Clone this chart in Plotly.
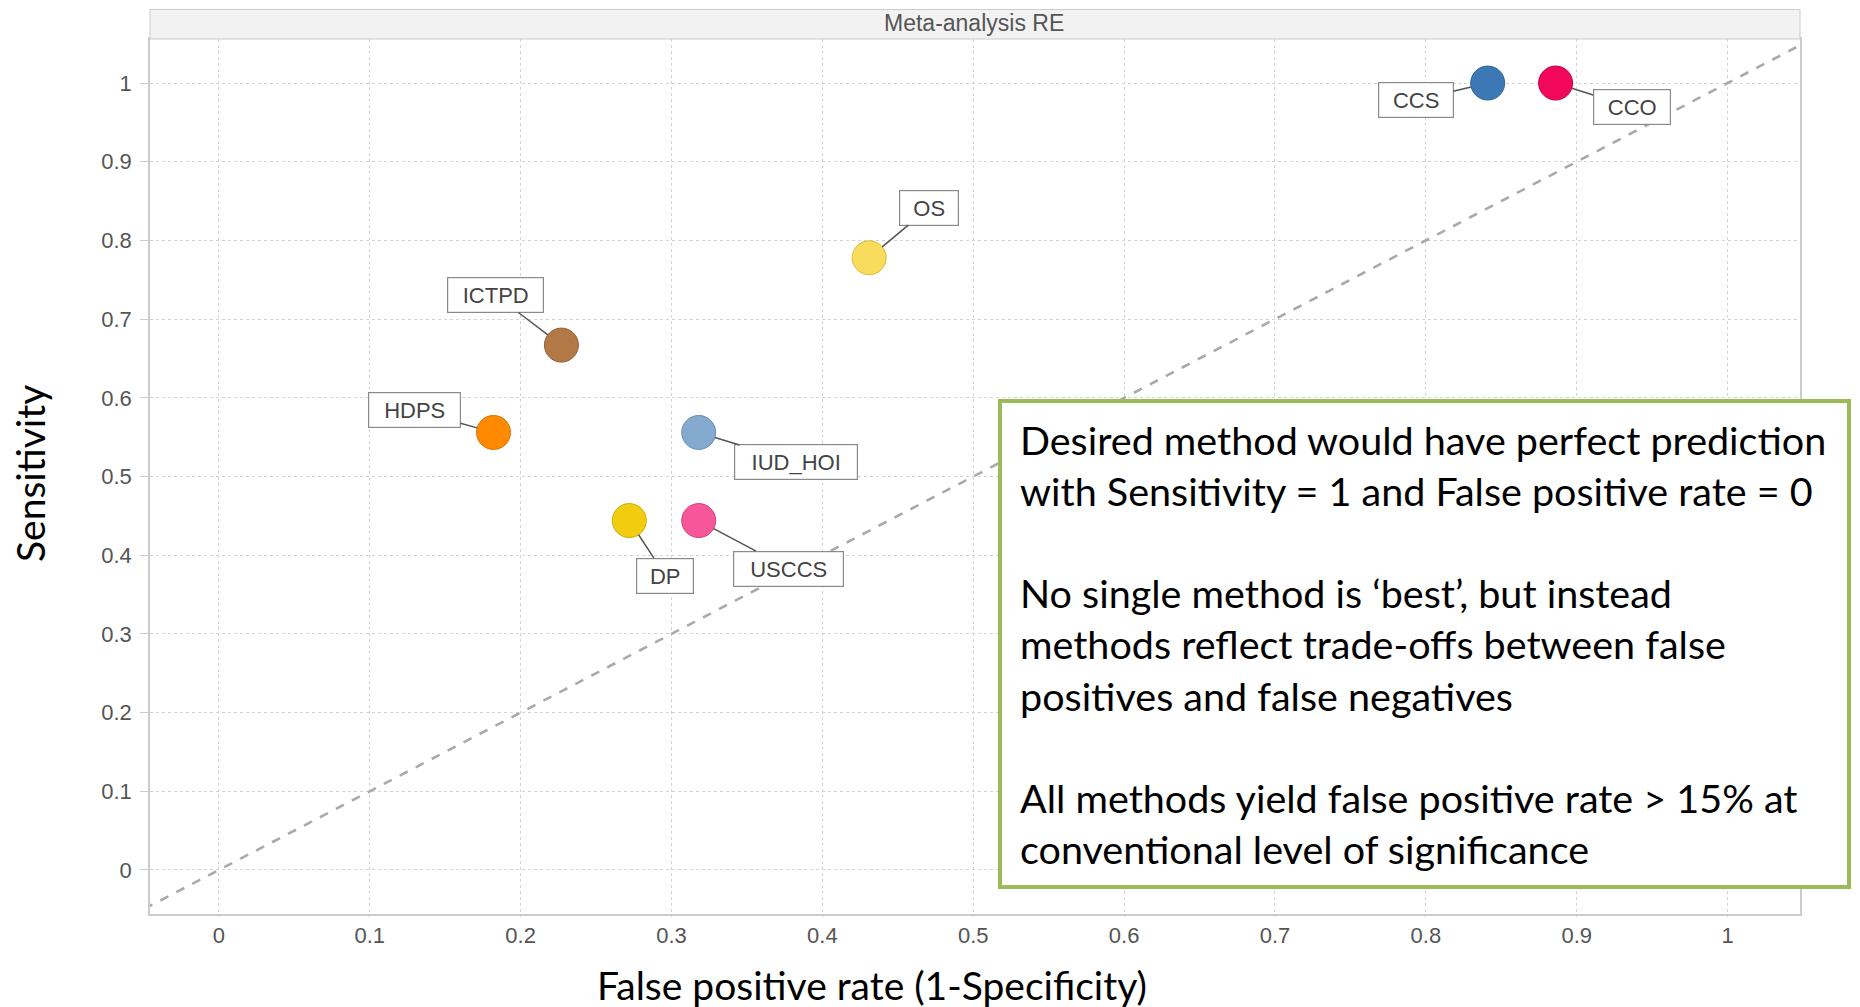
import plotly.graph_objects as go

# ---- data ----
methods = ["CCS", "CCO", "OS", "ICTPD", "HDPS", "IUD_HOI", "DP", "USCCS"]
false_positive_rate = [0.841, 0.886, 0.431, 0.227, 0.182, 0.318, 0.272, 0.318]
sensitivity = [1.0, 1.0, 0.778, 0.667, 0.556, 0.556, 0.444, 0.444]
marker_colors = ["#3b78b4", "#f2085a", "#f9dc5c", "#b27946", "#ff8a00", "#84aad0", "#f2cd0f", "#f75798"]
tick_values = [0, 0.1, 0.2, 0.3, 0.4, 0.5, 0.6, 0.7, 0.8, 0.9, 1]
tick_labels = ["0", "0.1", "0.2", "0.3", "0.4", "0.5", "0.6", "0.7", "0.8", "0.9", "1"]
diag = [-0.06, 1.06]

# label placement styling (pixel offsets and box widths)
label_style = {
    "CCS": (-72, 17, 66),
    "CCO": (76, 24, 68),
    "OS": (60, -50, 50),
    "ICTPD": (-66, -50, 87),
    "HDPS": (-79, -22, 83),
    "IUD_HOI": (97, 30, 114),
    "DP": (36, 55, 48),
    "USCCS": (90, 48, 101),
}

note_lines = [
    "Desired method would have perfect prediction",
    "with Sensitivity = 1 and False positive rate = 0",
    "",
    "No single method is \u2018best\u2019, but instead",
    "methods reflect trade-offs between false",
    "positives and false negatives",
    "",
    "All methods yield false positive rate > 15% at",
    "conventional level of significance",
]

W, H = 1860, 1007
L, R, T, B = 150, 60, 39, 93
pw, ph = W - L - R, H - T - B


def px_x(p):
    return (p - L) / pw


def px_y(p):
    return (H - B - p) / ph


fig = go.Figure()
fig.add_trace(go.Scatter(x=diag, y=diag, mode="lines",
                         line=dict(color="#aaaaaa", width=2.6, dash="dash"),
                         hoverinfo="skip", showlegend=False))

outline = ["#2f6496", "#c00048", "#d9bc40", "#8e5f35", "#d97400", "#6a8fb5", "#cfae00", "#d8407c"]
fig.add_trace(go.Scatter(x=false_positive_rate, y=sensitivity, mode="markers",
                         marker=dict(size=34, color=marker_colors,
                                     line=dict(color=outline, width=1)),
                         text=methods, showlegend=False))

for m, xv, yv in zip(methods, false_positive_rate, sensitivity):
    ax, ay, w = label_style[m]
    fig.add_annotation(x=xv, y=yv, xref="x", yref="y", text=m,
                       showarrow=True, arrowhead=0, arrowwidth=1.5, arrowcolor="#555555",
                       ax=ax, ay=ay, standoff=17,
                       font=dict(family="Liberation Sans, Arial", size=22, color="#444444"),
                       bgcolor="white", bordercolor="#8a8a8a", borderwidth=1.2,
                       borderpad=4, width=w, height=26)

# title strip
fig.add_shape(type="rect", xref="paper", yref="paper", x0=0, x1=1,
              y0=1, y1=px_y(9.5), fillcolor="#f2f2f2", line=dict(color="#cccccc", width=1))
fig.add_annotation(xref="paper", yref="paper", x=px_x(974), y=px_y(23.5), text="Meta-analysis RE",
                   showarrow=False, font=dict(family="Liberation Sans, Arial", size=23, color="#555555"),
                   xanchor="center", yanchor="middle")

# axis titles
fig.add_annotation(xref="paper", yref="paper", x=px_x(30), y=px_y(474), text="Sensitivity",
                   textangle=-90, showarrow=False, xanchor="center", yanchor="middle",
                   font=dict(family="Lato", size=39, color="black"))
fig.add_annotation(xref="paper", yref="paper", x=px_x(872), y=px_y(985),
                   text="False positive rate (1-Specificity)", showarrow=False,
                   font=dict(family="Lato", size=39, color="black"),
                   xanchor="center", yanchor="middle")

# note box
fig.add_shape(type="rect", xref="paper", yref="paper",
              x0=px_x(1000), x1=px_x(1849), y0=px_y(887), y1=px_y(401),
              fillcolor="white", line=dict(color="#9bbb59", width=4), layer="above")
y0, dy = 439, 51.2
for i, line in enumerate(note_lines):
    if not line:
        continue
    fig.add_annotation(xref="paper", yref="paper", x=px_x(1018), y=px_y(y0 + i * dy),
                       text=line, showarrow=False, xanchor="left", yanchor="middle",
                       font=dict(family="Lato", size=39.5, color="black"))

axis_common = dict(tickvals=tick_values, ticktext=tick_labels,
                   showgrid=True, gridcolor="#d4d4d4", griddash="dot", gridwidth=1,
                   showline=True, linecolor="#cccccc", linewidth=1.5, mirror=True,
                   tickcolor="#cccccc",
                   tickfont=dict(family="Liberation Sans, Arial", size=22, color="#555555"),
                   zeroline=False)

fig.update_xaxes(range=[-0.0457, 1.048], ticks="outside", ticklen=1, **axis_common)
fig.update_yaxes(range=[-0.056, 1.056], ticks="outside", ticklen=8, ticklabelstandoff=4,
                 **axis_common)

fig.update_layout(width=W, height=H, margin=dict(l=L, r=R, t=T, b=B),
                  plot_bgcolor="white", paper_bgcolor="white")

fig.write_html("out.html", config={"displayModeBar": False},
               post_script="document.body.style.margin='0';document.body.style.overflow='hidden';")
